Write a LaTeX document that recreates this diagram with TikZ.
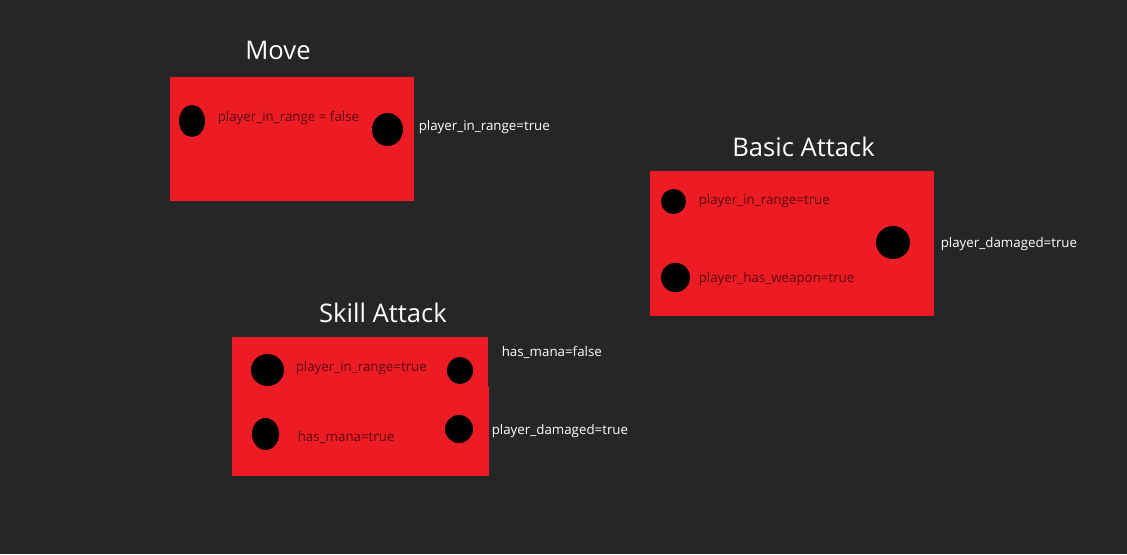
\documentclass[tikz,border=0pt]{standalone}
\usepackage{fontspec}
\setmainfont{Open Sans}
\usetikzlibrary{shapes.geometric}
\definecolor{bg}{RGB}{38,38,38}
\definecolor{boxred}{RGB}{237,28,36}
\definecolor{darktext}{RGB}{92,8,12}
\tikzset{
  statebox/.style={fill=boxred, draw=none},
  dot/.style={ellipse, fill=black, draw=none, inner sep=0pt},
  title/.style={text=white, font=\fontsize{19.2}{21}\selectfont, inner sep=0pt},
  intext/.style={text=darktext, font=\fontsize{10}{12}\selectfont, anchor=west, inner sep=0pt},
  outtext/.style={text=white, font=\fontsize{10}{12}\selectfont, anchor=west, inner sep=0pt}
}
\begin{document}
\begin{tikzpicture}[x=0.75pt, y=-0.75pt]
\fill[bg] (0,0) rectangle (1127,554);
\useasboundingbox (0,0) rectangle (1127,554);
% Move
\node[title] (tmove) at (278,50) {Move};
\fill[statebox] (170,77) rectangle (414,201);
\node[dot, minimum width=19.5pt, minimum height=24pt] (m1) at (192,121) {};
\node[dot, minimum width=23.25pt, minimum height=24.75pt] (m2) at (387.5,129.5) {};
\node[intext] (mt1) at (217.5,118) {player\_in\_range = false};
\node[outtext] (mt2) at (418.5,127) {player\_in\_range=true};
% Basic Attack
\node[title] (tbasic) at (803.5,147) {Basic Attack};
\fill[statebox] (650,171) rectangle (934,316);
\node[dot, minimum width=18.75pt, minimum height=18.75pt] (b1) at (673.5,201.5) {};
\node[dot, minimum width=25.5pt, minimum height=24.75pt] (b2) at (893,242.5) {};
\node[dot, minimum width=21.75pt, minimum height=22pt] (b3) at (675.5,277.5) {};
\node[intext] (bt1) at (698.5,201) {player\_in\_range=true};
\node[intext] (bt2) at (698.5,279.5) {player\_has\_weapon=true};
\node[outtext] (bt3) at (940.5,244.5) {player\_damaged=true};
% Skill Attack
\node[title] (tskill) at (383,313) {Skill Attack};
\fill[statebox] (232,337) rectangle (488,387);
\fill[statebox] (232,386.5) rectangle (489,476);
\node[dot, minimum width=24.75pt, minimum height=24pt] (s1) at (267.5,370) {};
\node[dot, minimum width=19.5pt, minimum height=20.25pt] (s2) at (460,370.5) {};
\node[dot, minimum width=20.25pt, minimum height=24pt] (s3) at (265.5,434) {};
\node[dot, minimum width=21pt, minimum height=21pt] (s4) at (459,429) {};
\node[intext] (st1) at (295.5,368) {player\_in\_range=true};
\node[intext] (st2) at (297.5,437) {has\_mana=true};
\node[outtext] (st3) at (501.5,352) {has\_mana=false};
\node[outtext] (st4) at (491.5,431) {player\_damaged=true};
\end{tikzpicture}
\end{document}
